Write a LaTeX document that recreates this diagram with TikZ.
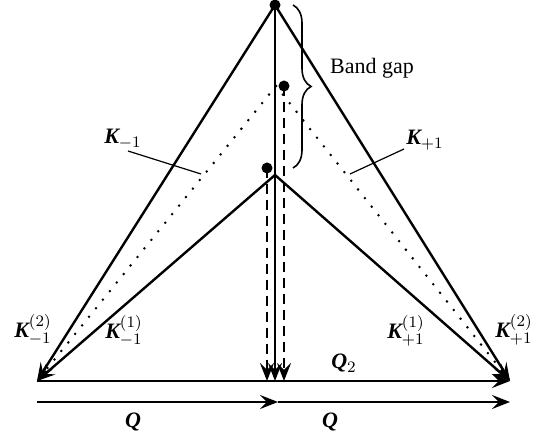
\documentclass[tikz,border=0pt]{standalone}
\usepackage{fontspec}
\setmainfont{Liberation Serif}
\setmathrm{Liberation Serif}
\DeclareMathSizes{11}{11}{8.5}{6.5}
\usetikzlibrary{arrows.meta, decorations.pathreplacing, positioning}
\newcommand{\Kb}{\mbox{\bfseries\itshape K}}
\newcommand{\Qb}{\mbox{\bfseries\itshape Q}}
\tikzset{
    thinline/.style={line width=0.8pt},
    arrowline/.style={line width=1.2pt, -{Stealth[length=9pt, width=7pt, inset=3.5pt]}},
    dotline/.style={line width=1.4pt, line cap=round, dash pattern=on 0pt off 5.5pt},
    dashline/.style={line width=1.2pt, dash pattern=on 5pt off 3pt, -{Stealth[length=9pt, width=7pt, inset=3.5pt]}},
    leader/.style={line width=0.6pt},
    lbl/.style={font=\fontsize{11}{13}\selectfont, inner sep=1pt},
    statedot/.style={circle, fill=black, inner sep=0pt, minimum size=5.5pt},
}
\begin{document}
\begin{tikzpicture}[x=0.5pt, y=-0.5pt]
    \useasboundingbox (0,0) rectangle (541,438);
    % Punti
    \coordinate (top) at (275,5);
    \coordinate (apex) at (275,175);
    \coordinate (dapex) at (276,86);
    \coordinate (kl) at (37,381);
    \coordinate (kr) at (510,381);
    \coordinate (km) at (275,381);
    \coordinate (kma) at (267,381);
    \coordinate (kmb) at (284,381);
    \coordinate (ql) at (37,402);
    \coordinate (qm) at (278,402);
    \coordinate (qr) at (510,402);
    \node[statedot] (s0) at (top) {};
    \node[statedot] (s1) at (284,86) {};
    \node[statedot] (s2) at (267,168) {};

    % Bande
    \draw[arrowline] (top) -- (kl);
    \draw[arrowline] (top) -- (kr);
    \draw[arrowline] (apex) -- (kl);
    \draw[arrowline] (apex) -- (kr);
    \draw[dotline] (dapex) -- (kl);
    \draw[dotline] (dapex) -- (kr);
    \draw[arrowline] (top) -- (km);
    \draw[dashline] (s1.center) -- (kmb);
    \draw[dashline] (s2.center) -- (kma);
    \draw[arrowline] (kl) -- (kr);
    \draw[arrowline] (ql) -- (qm);
    \draw[arrowline] (qm) -- (qr);

    % Band gap
    \draw[thinline, decorate, decoration={brace, amplitude=9pt}] (293,5) -- (293,168);
    \node[lbl] (gap) at (372,68) {Band gap};

    % Etichette
    \node[lbl] (km1) at (123,139) {$\Kb_{-1}$};
    \node[lbl] (kp1) at (425,140) {$\Kb_{+1}$};
    \coordinate (km1end) at (201,174);
    \coordinate (kp1end) at (350,174);
    \draw[leader] (128,151) -- (km1end);
    \draw[leader] (404,149) -- (kp1end);
    \node[lbl] (km12) at (33,330) {$\Kb_{-1}^{(2)}$};
    \node[lbl] (km11) at (124,331) {$\Kb_{-1}^{(1)}$};
    \node[lbl] (kp11) at (406,331) {$\Kb_{+1}^{(1)}$};
    \node[lbl] (kp12) at (514,330) {$\Kb_{+1}^{(2)}$};
    \node[lbl] (q2) at (344,363) {$\Qb_2$};
    \node[lbl] (qa) at (133,422) {$\Qb$};
    \node[lbl] (qb) at (330,422) {$\Qb$};
\end{tikzpicture}
\end{document}
